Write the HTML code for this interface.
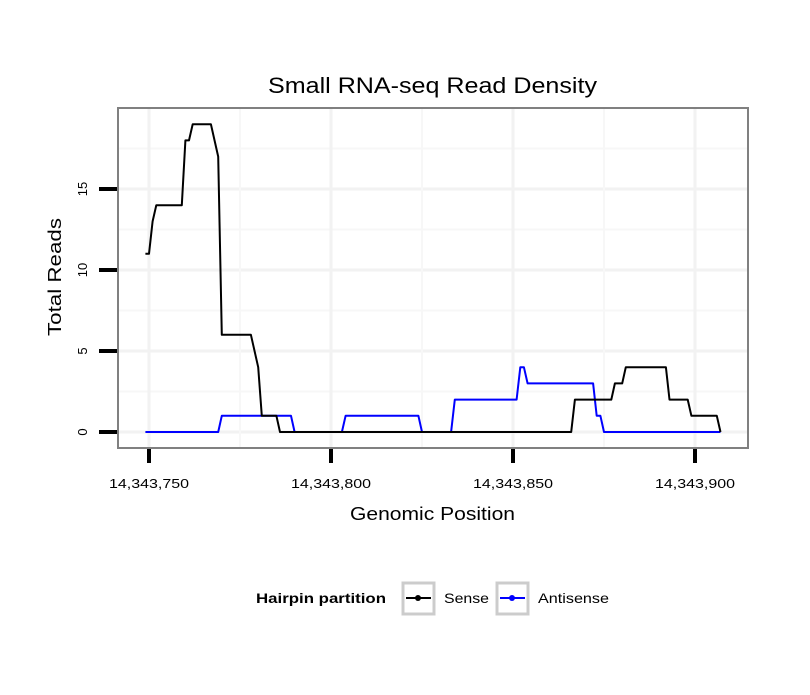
<!DOCTYPE html>
<html><head><meta charset="utf-8"><style>
body{margin:0;background:#fff;}
svg text{font-family:"Liberation Sans",sans-serif;}
</style></head><body>
<svg id="chart" width="810" height="690" xmlns="http://www.w3.org/2000/svg">
<text x="268" y="93" font-size="22" textLength="329" lengthAdjust="spacingAndGlyphs">Small RNA-seq Read Density</text>
<g id="grid"></g>
<g id="series"></g>
<rect x="118" y="108" width="630" height="340" fill="none" stroke="#808080" stroke-width="2"/>
<g id="axes"></g>
<text x="350" y="520" font-size="18" textLength="165" lengthAdjust="spacingAndGlyphs">Genomic Position</text>
<text transform="translate(61,336) rotate(-90)" font-size="18" textLength="118" lengthAdjust="spacingAndGlyphs">Total Reads</text>
<g>
<text x="256" y="603" font-size="14" font-weight="bold" textLength="130" lengthAdjust="spacingAndGlyphs">Hairpin partition</text>
<g>
<rect x="403" y="583" width="31" height="31" fill="#fff" stroke="#ccc" stroke-width="3"/>
<line x1="406" y1="598" x2="431" y2="598" stroke="#000" stroke-width="2"/>
<circle cx="418" cy="598" r="3" fill="#000"/>
<text x="444" y="603" font-size="14" textLength="45" lengthAdjust="spacingAndGlyphs">Sense</text></g>
<g>
<rect x="497" y="583" width="31" height="31" fill="#fff" stroke="#ccc" stroke-width="3"/>
<line x1="500" y1="598" x2="525" y2="598" stroke="#00f" stroke-width="2"/>
<circle cx="512" cy="598" r="3" fill="#00f"/>
<text x="538" y="603" font-size="14" textLength="71" lengthAdjust="spacingAndGlyphs">Antisense</text></g>
</g>
</svg>
<script>
const base = 14343750;
const xTicks = [14343750, 14343800, 14343850, 14343900];
const xTickLabels = ["14,343,750", "14,343,800", "14,343,850", "14,343,900"];
const yTicks = [0, 5, 10, 15];
const sensePos = [-1,0,1,2,9,10,11,12,17,19,20,28,30,31,35,36,116,117,127,128,130,131,142,143,148,149,156,157];
const senseVal = [11,11,13,14,14,18,18,19,19,17,6,6,4,1,1,0,0,2,2,3,3,4,4,2,2,1,1,0];
const antiPos = [-1,19,20,39,40,53,54,74,75,83,84,101,102,103,104,122,123,124,125,157];
const antiVal = [0,0,1,1,0,0,1,1,0,0,2,2,4,4,3,3,1,1,0,0];

const NS = "http://www.w3.org/2000/svg";
const X = p => 149 + (p - base) * 3.64;
const Xo = o => X(base + o);
const Y = v => 432 - v * 16.2;
function mk(tag, attrs, parent) {
  const e = document.createElementNS(NS, tag);
  for (const k in attrs) e.setAttribute(k, attrs[k]);
  parent.appendChild(e); return e;
}
const grid = document.getElementById("grid");
[-2.5,2.5,7.5,12.5,17.5].forEach(v => { if (Y(v) > 108 && Y(v) < 448) {
  const l = mk("line", {x1:119, x2:747, y1:Y(v), y2:Y(v), stroke:"#f7f7f7", "stroke-width":2}, grid);
  
   }});
yTicks.forEach(v => {
  const l = mk("line", {x1:119, x2:747, y1:Y(v), y2:Y(v), stroke:"#f2f2f2", "stroke-width":3}, grid);
  
  
});
[base-25, base+25, base+75, base+125].forEach(p => { if (X(p) > 118 && X(p) < 748) {
  const l = mk("line", {x1:X(p), x2:X(p), y1:109, y2:447, stroke:"#f7f7f7", "stroke-width":2}, grid);
  
   }});
xTicks.forEach(p => {
  const l = mk("line", {x1:X(p), x2:X(p), y1:109, y2:447, stroke:"#f2f2f2", "stroke-width":3}, grid);
  
  
});
const series = document.getElementById("series");
function line(pos, val, color, name) {
  const pts = pos.map((p, i) => Xo(p).toFixed(1) + "," + Y(val[i]).toFixed(1)).join(" ");
  const pl = mk("polyline", {points:pts, fill:"none", stroke:color, "stroke-width":2, "stroke-linejoin":"round"}, series);
  
  
}
line(antiPos, antiVal, "#0000ff", "antisense-line");
line(sensePos, senseVal, "#000000", "sense-line");
const axes = document.getElementById("axes");
xTicks.forEach((p, i) => {
  const t = mk("line", {x1:X(p), x2:X(p), y1:449, y2:463, stroke:"#000", "stroke-width":4}, axes);
  
  
  const tx = mk("text", {x:X(p) - 40, y:488, "font-size":13, textLength:80, lengthAdjust:"spacingAndGlyphs"}, axes);
  tx.textContent = xTickLabels[i];
  
  
});
yTicks.forEach(v => {
  const t = mk("line", {x1:99, x2:117, y1:Y(v), y2:Y(v), stroke:"#000", "stroke-width":4}, axes);
  
  
  const tx = mk("text", {transform:`translate(87,${Y(v)}) rotate(-90)`, "text-anchor":"middle", "font-size":13}, axes);
  tx.textContent = String(v);
  
  
});
</script>
</body></html>
